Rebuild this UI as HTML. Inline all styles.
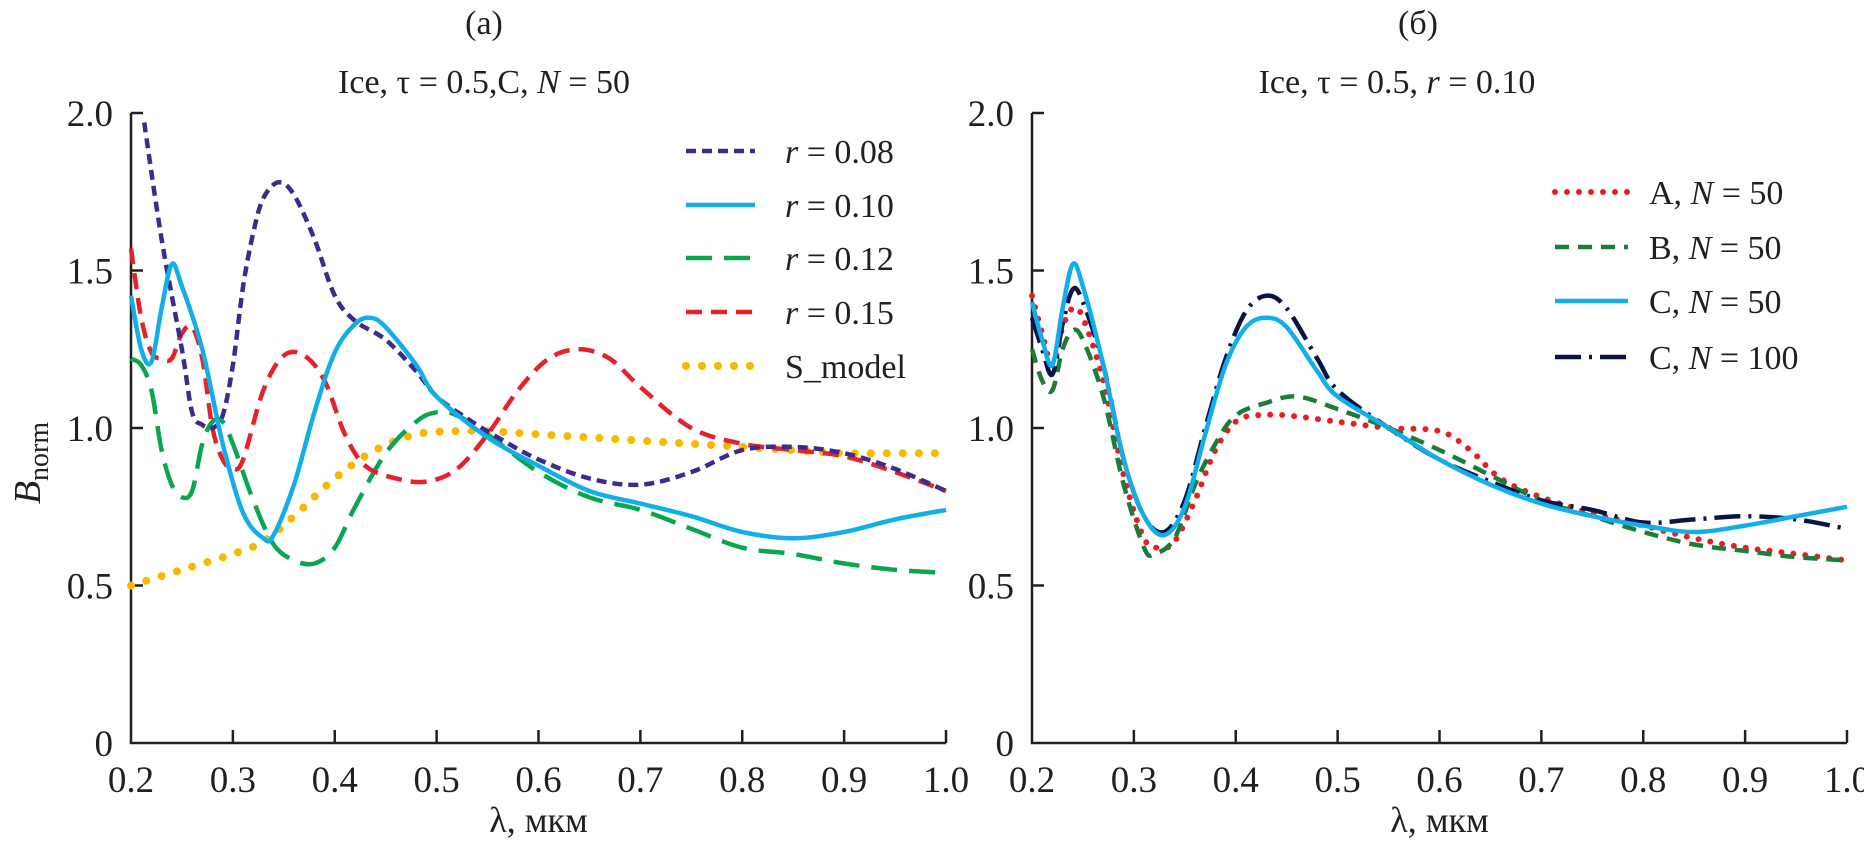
<!DOCTYPE html>
<html><head><meta charset="utf-8"><style>
html,body{margin:0;padding:0;background:#fff;}
svg{display:block;}
svg text{font-family:"Liberation Serif","DejaVu Serif",serif;}
</style></head><body>
<svg id="chart" width="1864" height="853" viewBox="0 0 1864 853" xmlns="http://www.w3.org/2000/svg" font-family="Liberation Serif, serif"></svg>
<script>
const xTicks=[0.2,0.3,0.4,0.5,0.6,0.7,0.8,0.9,1.0];
const yTicks=[0,0.5,1.0,1.5,2.0];
const xTickLabels=["0.2","0.3","0.4","0.5","0.6","0.7","0.8","0.9","1.0"];
const yTickLabels=["0","0.5","1.0","1.5","2.0"];
// Panel (a)
const a_r008_x=[0.213,0.23,0.25,0.26,0.27,0.28,0.29,0.30,0.31,0.32,0.33,0.345,0.36,0.38,0.40,0.42,0.45,0.48,0.5,0.53,0.56,0.6,0.65,0.7,0.75,0.8,0.85,0.9,0.95,1.0];
const a_r008_y=[1.97,1.6,1.25,1.05,1.01,1.0,1.04,1.2,1.45,1.62,1.73,1.78,1.74,1.6,1.42,1.34,1.28,1.18,1.1,1.03,0.97,0.9,0.84,0.82,0.86,0.93,0.94,0.92,0.87,0.80];
const a_r010_x=[0.2,0.21,0.22,0.23,0.24,0.25,0.27,0.29,0.31,0.33,0.34,0.36,0.38,0.40,0.42,0.435,0.45,0.48,0.5,0.55,0.6,0.65,0.7,0.75,0.8,0.85,0.9,0.95,1.0];
const a_r010_y=[1.42,1.25,1.21,1.38,1.52,1.45,1.25,0.95,0.73,0.65,0.66,0.82,1.05,1.24,1.33,1.35,1.32,1.2,1.1,0.97,0.88,0.80,0.76,0.72,0.67,0.65,0.67,0.71,0.74];
const a_r012_x=[0.2,0.21,0.22,0.23,0.24,0.25,0.26,0.27,0.28,0.29,0.30,0.32,0.34,0.36,0.38,0.40,0.42,0.45,0.48,0.5,0.52,0.55,0.6,0.65,0.7,0.75,0.8,0.85,0.9,0.95,1.0];
const a_r012_y=[1.22,1.2,1.12,0.93,0.82,0.78,0.8,0.95,1.02,1.02,0.95,0.77,0.63,0.58,0.57,0.62,0.75,0.92,1.02,1.05,1.04,0.98,0.86,0.78,0.74,0.68,0.62,0.6,0.57,0.55,0.54];
const a_r015_x=[0.2,0.21,0.22,0.23,0.24,0.25,0.26,0.27,0.28,0.29,0.30,0.31,0.33,0.35,0.37,0.39,0.41,0.43,0.46,0.49,0.52,0.55,0.58,0.61,0.64,0.67,0.7,0.75,0.8,0.85,0.9,0.95,1.0];
const a_r015_y=[1.57,1.35,1.24,1.22,1.22,1.3,1.32,1.22,1.0,0.9,0.87,0.9,1.12,1.23,1.23,1.15,0.98,0.88,0.84,0.83,0.87,0.98,1.12,1.22,1.25,1.22,1.13,1.0,0.95,0.93,0.91,0.86,0.80];
const a_s_x=[0.2,0.25,0.3,0.33,0.36,0.4,0.44,0.48,0.52,0.55,0.6,0.65,0.7,0.75,0.8,0.85,0.9,0.95,1.0];
const a_s_y=[0.5,0.55,0.6,0.64,0.72,0.84,0.93,0.98,0.99,0.99,0.98,0.97,0.96,0.95,0.94,0.93,0.92,0.92,0.92];
// Panel (б)
const b_A_x=[0.2,0.21,0.22,0.23,0.24,0.25,0.27,0.29,0.31,0.325,0.34,0.36,0.38,0.40,0.42,0.45,0.5,0.55,0.6,0.63,0.66,0.7,0.75,0.8,0.85,0.9,0.95,1.0];
const b_A_y=[1.42,1.3,1.2,1.32,1.38,1.35,1.15,0.85,0.65,0.62,0.64,0.77,0.93,1.02,1.04,1.04,1.02,1.0,0.99,0.93,0.84,0.78,0.73,0.69,0.65,0.62,0.6,0.58];
const b_B_x=[0.2,0.21,0.22,0.23,0.24,0.25,0.27,0.29,0.31,0.32,0.34,0.36,0.38,0.40,0.43,0.46,0.5,0.55,0.6,0.65,0.7,0.75,0.8,0.85,0.9,0.95,1.0];
const b_B_y=[1.25,1.15,1.12,1.25,1.31,1.28,1.1,0.82,0.62,0.6,0.65,0.82,0.95,1.04,1.08,1.1,1.06,1.0,0.93,0.85,0.77,0.72,0.67,0.63,0.61,0.59,0.58];
const b_C50_x=[0.2,0.21,0.22,0.23,0.24,0.25,0.27,0.29,0.31,0.33,0.35,0.37,0.39,0.41,0.43,0.45,0.48,0.5,0.55,0.6,0.65,0.7,0.75,0.8,0.85,0.9,0.95,1.0];
const b_C50_y=[1.4,1.28,1.2,1.38,1.52,1.45,1.2,0.9,0.72,0.66,0.75,0.98,1.2,1.32,1.35,1.32,1.18,1.1,1.0,0.9,0.82,0.76,0.72,0.69,0.67,0.69,0.72,0.75];
const b_C100_x=[0.2,0.21,0.22,0.23,0.24,0.25,0.27,0.29,0.31,0.33,0.35,0.37,0.39,0.41,0.43,0.45,0.48,0.5,0.55,0.6,0.65,0.7,0.75,0.8,0.85,0.9,0.95,1.0];
const b_C100_y=[1.35,1.25,1.17,1.33,1.44,1.4,1.2,0.9,0.72,0.67,0.77,1.0,1.22,1.37,1.42,1.38,1.22,1.12,1.0,0.9,0.83,0.77,0.74,0.70,0.71,0.72,0.71,0.68];

const svg=document.getElementById('chart');
const NS='http://www.w3.org/2000/svg';
const FF='"Liberation Serif","DejaVu Serif",serif';
function mk(tag,attrs,parent){const e=document.createElementNS(NS,tag);for(const k in attrs)e.setAttribute(k,attrs[k]);if(tag==='text')e.style.fontFamily=FF;(parent||svg).appendChild(e);return e;}
const Y0=743,YTOP=113;
function yScale(v){return Y0-(v/2.0)*(Y0-YTOP);}
function makeX(left,right){return v=>left+(v-0.2)/0.8*(right-left);}
function smooth(pts){let d='M'+pts[0][0].toFixed(1)+','+pts[0][1].toFixed(1);for(let i=0;i<pts.length-1;i++){const p0=pts[i-1]||pts[i],p1=pts[i],p2=pts[i+1],p3=pts[i+2]||p2;const c1x=p1[0]+(p2[0]-p0[0])/6,c1y=p1[1]+(p2[1]-p0[1])/6,c2x=p2[0]-(p3[0]-p1[0])/6,c2y=p2[1]-(p3[1]-p1[1])/6;d+=' C'+c1x.toFixed(1)+','+c1y.toFixed(1)+' '+c2x.toFixed(1)+','+c2y.toFixed(1)+' '+p2[0].toFixed(1)+','+p2[1].toFixed(1);}return d;}

function axes(left,right,prefix){
  const xs=makeX(left,right);
  const g=mk('g',{});
  
  
  mk('path',{d:`M${left},${YTOP} H${left+12} M${left},${YTOP} V${Y0} H${right}`,stroke:'#231f20','stroke-width':2.5,fill:'none'},g);
  xTicks.forEach((t,i)=>{const x=xs(t);
    if(i>0)mk('line',{x1:x,x2:x,y1:Y0,y2:Y0-13,stroke:'#231f20','stroke-width':2.5},g);
    const tx=mk('text',{x:x,y:792,'text-anchor':'middle','font-size':37,fill:'#231f20'},g);
    
    
    tx.textContent=xTickLabels[i];});
  yTicks.forEach((t,i)=>{const y=yScale(t);
    if(i>0&&i<4)mk('line',{x1:left,x2:left+12,y1:y,y2:y,stroke:'#231f20','stroke-width':2.5},g);
    const tx=mk('text',{x:left-18,y:y+13,'text-anchor':'end','font-size':37,fill:'#231f20'},g);
    
    
    tx.textContent=yTickLabels[i];});
  const xl=mk('text',{x:(left+right)/2,y:832,'text-anchor':'middle','font-size':36,fill:'#231f20'},g);
  
  
  xl.textContent='λ, мкм';
  return xs;
}
function series(xs,X,Y,style,name){
  const pts=X.map((v,i)=>[xs(v),yScale(Y[i])]);
  const p=mk('path',Object.assign({d:smooth(pts),fill:'none'},style));
  
  
}
const S={
 purple:{stroke:'#3d2a8f','stroke-width':4.5,'stroke-dasharray':'10 6'},
 cyan:{stroke:'#11aee9','stroke-width':4.5},
 green:{stroke:'#0aa550','stroke-width':4.5,'stroke-dasharray':'26 12'},
 red:{stroke:'#e4222a','stroke-width':4.5,'stroke-dasharray':'16 9'},
 yellow:{stroke:'#f9b800','stroke-width':8,'stroke-dasharray':'0 16','stroke-linecap':'round'},
 redDot:{stroke:'#ec1c24','stroke-width':6,'stroke-dasharray':'0 12','stroke-linecap':'round'},
 greenDash:{stroke:'#1c7d3a','stroke-width':4.5,'stroke-dasharray':'14 9'},
 navy:{stroke:'#0b1446','stroke-width':4.5,'stroke-dasharray':'26 8 3 8'}
};
const xa=axes(131,946,'panel-a');
series(xa,a_s_x,a_s_y,S.yellow,'series-s-model');
series(xa,a_r012_x,a_r012_y,S.green,'series-r-0-12');
series(xa,a_r015_x,a_r015_y,S.red,'series-r-0-15');
series(xa,a_r008_x,a_r008_y,S.purple,'series-r-0-08');
series(xa,a_r010_x,a_r010_y,S.cyan,'series-r-0-10');
const xb=axes(1032,1847,'panel-b');
series(xb,b_A_x,b_A_y,S.redDot,'series-a-n50');
series(xb,b_B_x,b_B_y,S.greenDash,'series-b-n50');
series(xb,b_C100_x,b_C100_y,S.navy,'series-c-n100');
series(xb,b_C50_x,b_C50_y,S.cyan,'series-c-n50');

function legend(x1,x2,tx,ys,styles,labels,prefix){
  ys.forEach((y,i)=>{
    const g=mk('g',{});
    
    
    mk('path',Object.assign({d:`M${x1},${y} H${x2}`,fill:'none'},styles[i]),g);
    const t=mk('text',{x:tx,y:y+12,'font-size':34,fill:'#231f20'},g);
    t.innerHTML=labels[i];
  });
}
legend(686,755,785,[151,205,258,312,366],[S.purple,S.cyan,S.green,S.red,S.yellow],
 ['<tspan font-style="italic">r</tspan> = 0.08','<tspan font-style="italic">r</tspan> = 0.10','<tspan font-style="italic">r</tspan> = 0.12','<tspan font-style="italic">r</tspan> = 0.15','S_model'],'panel-a');
legend(1555,1628,1649,[192,247,301,357],[S.redDot,S.greenDash,S.cyan,S.navy],
 ['A, <tspan font-style="italic">N</tspan> = 50','B, <tspan font-style="italic">N</tspan> = 50','C, <tspan font-style="italic">N</tspan> = 50','C, <tspan font-style="italic">N</tspan> = 100'],'panel-b');

function txt(x,y,s,html,name,extra){const t=mk('text',Object.assign({x:x,y:y,'text-anchor':'middle','font-size':s,fill:'#231f20'},extra||{}));t.innerHTML=html;return t;}
txt(484,34,34,'(a)','panel-a-label');
txt(1418,34,34,'(б)','panel-b-label');
txt(484,93,34,'Ice, τ = 0.5,C, <tspan font-style="italic">N</tspan> = 50','panel-a-title');
txt(1397,93,34,'Ice, τ = 0.5, <tspan font-style="italic">r</tspan> = 0.10','panel-b-title');
txt(40,463,38,'<tspan font-style="italic">B</tspan><tspan font-size="28" dy="8">norm</tspan>','y-axis-title',{transform:'rotate(-90 40 463)'});
</script>
</body></html>
